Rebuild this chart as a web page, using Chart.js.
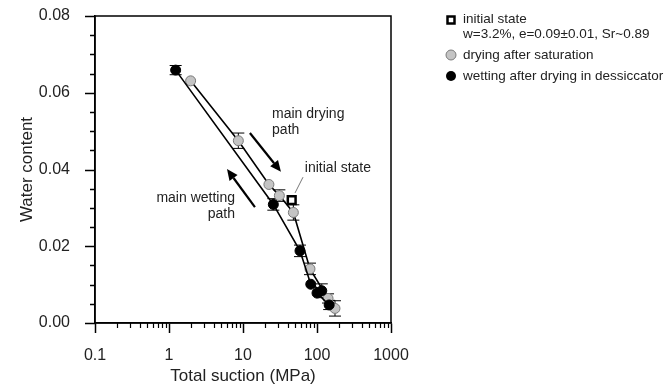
<!DOCTYPE html>
<html>
<head>
<meta charset="utf-8">
<script src="https://cdn.jsdelivr.net/npm/chart.js@4.4.1/dist/chart.umd.min.js"></script>
<style>
  html, body { margin: 0; padding: 0; background: #fff; }
  #wrap { width: 670px; height: 387px; position: relative; }
</style>
</head>
<body>
<div id="wrap"><canvas id="chart"></canvas></div>
<script>
// drying after saturation (grey)
const dryX = [1.96, 8.65, 22.4, 31.0, 47.9, 80.4, 141, 175];
const dryY = [0.0631, 0.0475, 0.0361, 0.0332, 0.0288, 0.0141, 0.0064, 0.0038];
const dryErr = [0, 0.0020, 0, 0.0015, 0.0020, 0.0015, 0.0012, 0.0020];

// wetting after drying in dessiccator (black)
const wetX = [1.23, 25.7, 58.9, 82.4, 116, 100, 146];
const wetY = [0.0659, 0.0309, 0.0188, 0.0101, 0.0084, 0.0078, 0.0047];
const wetErr = [0.0012, 0.0015, 0.0015, 0, 0.0018, 0, 0.0012];

// initial state
const initX = [45.5];
const initY = [0.032];

const xTicks = [0.1, 1, 10, 100, 1000];
const yTicks = [0, 0.02, 0.04, 0.06, 0.08];

const FONT = '"Liberation Sans", Arial, sans-serif';

const toPoints = (xs, ys) => xs.map((x, i) => ({ x: x, y: ys[i] }));

// error bars, ticks, frame, notes and legend
const extras = {
    id: 'extras',
    beforeDatasetsDraw(chart) {
        const ctx = chart.ctx;
        const xs = chart.scales.x, ys = chart.scales.y;
        ctx.save();
        ctx.strokeStyle = '#000';
        ctx.lineWidth = 1;
        [[dryX, dryY, dryErr], [wetX, wetY, wetErr]].forEach(([X, Y, E]) => {
            X.forEach((xv, i) => {
                if (!E[i]) return;
                const px = xs.getPixelForValue(xv);
                const top = ys.getPixelForValue(Y[i] + E[i]);
                const bot = ys.getPixelForValue(Y[i] - E[i]);
                ctx.beginPath();
                ctx.moveTo(px, top); ctx.lineTo(px, bot);
                ctx.moveTo(px - 6, top); ctx.lineTo(px + 6, top);
                ctx.moveTo(px - 6, bot); ctx.lineTo(px + 6, bot);
                ctx.stroke();
            });
        });
        ctx.restore();
    },
    afterDraw(chart) {
        const ctx = chart.ctx;
        const xs = chart.scales.x, ys = chart.scales.y;
        const a = chart.chartArea;
        ctx.save();

        // frame
        ctx.strokeStyle = '#000';
        ctx.lineWidth = 1.5;
        ctx.strokeRect(a.left, a.top, a.right - a.left, a.bottom - a.top);

        // y ticks (major 10px, minor 5px)
        ctx.beginPath();
        for (let i = 0; i <= 16; i++) {
            const v = i * 0.005;
            const py = Math.round(ys.getPixelForValue(v)) + 0.5;
            ctx.moveTo(a.left - (i % 4 === 0 ? 10 : 5), py); ctx.lineTo(a.left, py);
        }
        ctx.stroke();

        // x minor ticks
        ctx.lineWidth = 1.2;
        ctx.beginPath();
        xTicks.slice(0, -1).forEach(d => {
            for (let k = 2; k <= 9; k++) {
                const px = Math.round(xs.getPixelForValue(k * d)) + 0.5;
                ctx.moveTo(px, a.bottom); ctx.lineTo(px, a.bottom + 5);
            }
        });
        ctx.stroke();

        // arrows
        const arrow = (x0, y0, x1, y1) => {
            const p0 = [xs.getPixelForValue(x0), ys.getPixelForValue(y0)];
            const p1 = [xs.getPixelForValue(x1), ys.getPixelForValue(y1)];
            const ang = Math.atan2(p1[1] - p0[1], p1[0] - p0[0]);
            const len = 11, wid = 5;
            const bx = p1[0] - len * Math.cos(ang), by = p1[1] - len * Math.sin(ang);
            ctx.lineWidth = 2.2;
            ctx.beginPath();
            ctx.moveTo(p0[0], p0[1]); ctx.lineTo(bx, by);
            ctx.stroke();
            ctx.beginPath();
            ctx.moveTo(p1[0], p1[1]);
            ctx.lineTo(bx + wid * Math.sin(ang), by - wid * Math.cos(ang));
            ctx.lineTo(bx - wid * Math.sin(ang), by + wid * Math.cos(ang));
            ctx.closePath();
            ctx.fill();
        };
        ctx.fillStyle = '#000';
        arrow(12.4, 0.0495, 32.6, 0.0394);
        arrow(14.5, 0.0302, 6.08, 0.0401);

        // leader line to the initial state
        ctx.lineWidth = 0.8;
        ctx.strokeStyle = '#555';
        ctx.beginPath();
        ctx.moveTo(xs.getPixelForValue(64.7), ys.getPixelForValue(0.0380));
        ctx.lineTo(xs.getPixelForValue(50.5), ys.getPixelForValue(0.0339));
        ctx.stroke();

        // notes
        ctx.fillStyle = '#222';
        ctx.font = '14px ' + FONT;
        ctx.textBaseline = 'middle';
        ctx.textAlign = 'left';
        const note = (txt, xv, yv) => ctx.fillText(txt, xs.getPixelForValue(xv), ys.getPixelForValue(yv));
        note('main drying', 24.7, 0.0545);
        note('path', 24.7, 0.0503);
        note('initial state', 68.5, 0.0404);
        ctx.textAlign = 'right';
        note('main wetting', 7.8, 0.0326);
        note('path', 7.8, 0.0284);

        // legend
        ctx.textAlign = 'left';
        ctx.font = '13.5px ' + FONT;
        const lx = 451, tx = 463;
        ctx.lineWidth = 2.5;
        ctx.strokeStyle = '#000';
        ctx.fillStyle = '#fff';
        ctx.fillRect(lx - 3.5, 20 - 3.5, 7, 7);
        ctx.strokeRect(lx - 3.5, 20 - 3.5, 7, 7);

        ctx.lineWidth = 1;
        ctx.fillStyle = '#c4c4c4';
        ctx.strokeStyle = '#7a7a7a';
        ctx.beginPath(); ctx.arc(lx, 55, 5, 0, Math.PI * 2); ctx.fill(); ctx.stroke();
        ctx.fillStyle = '#000';
        ctx.beginPath(); ctx.arc(lx, 76, 5, 0, Math.PI * 2); ctx.fill();

        ctx.fillStyle = '#222';
        ctx.fillText('initial state', tx, 19);
        ctx.fillText('w=3.2%, e=0.09\u00b10.01, Sr~0.89', tx, 34);
        ctx.fillText('drying after saturation', tx, 55);
        ctx.fillText('wetting after drying in dessiccator', tx, 76);
        ctx.restore();
    }
};

new Chart(document.getElementById('chart'), {
    type: 'scatter',
    data: {
        datasets: [
            {
                label: 'wetting after drying in dessiccator',
                data: toPoints(wetX, wetY),
                showLine: true,
                borderColor: '#000',
                borderWidth: 1.6,
                pointRadius: 5,
                pointBackgroundColor: '#000',
                pointBorderColor: '#000',
                pointBorderWidth: 1
            },
            {
                label: 'drying after saturation',
                data: toPoints(dryX, dryY),
                showLine: true,
                borderColor: '#000',
                borderWidth: 1.6,
                pointRadius: 5,
                pointBackgroundColor: '#c4c4c4',
                pointBorderColor: '#7a7a7a',
                pointBorderWidth: 1
            },
            {
                label: 'initial state',
                data: toPoints(initX, initY),
                pointStyle: 'rect',
                pointRadius: 5.5,
                pointBackgroundColor: '#fff',
                pointBorderColor: '#000',
                pointBorderWidth: 2.5
            }
        ]
    },
    options: {
        responsive: true,
        maintainAspectRatio: false,
        animation: false,
        layout: { padding: { top: 16, right: 279, left: 0, bottom: 0 } },
        plugins: { legend: { display: false }, tooltip: { enabled: false } },
        scales: {
            x: {
                type: 'logarithmic',
                min: 0.1,
                max: 1000,
                afterBuildTicks: axis => { axis.ticks = xTicks.map(v => ({ value: v })); },
                afterFit: axis => { axis.height = 64; },
                ticks: {
                    color: '#222',
                    font: { family: FONT, size: 16 },
                    padding: 13,
                    maxRotation: 0,
                    autoSkip: false,
                    callback: v => String(v)
                },
                grid: { display: true, drawOnChartArea: false, tickLength: 10, tickColor: '#000', tickWidth: 1.5 },
                border: { display: true, color: '#000', width: 1.5 },
                title: { display: true, text: 'Total suction (MPa)', color: '#222', font: { family: FONT, size: 17 }, padding: { top: 0, bottom: 0 } }
            },
            y: {
                min: 0,
                max: 0.08,
                afterBuildTicks: axis => { axis.ticks = yTicks.map(v => ({ value: v })); },
                afterFit: axis => { axis.width = 95; },
                ticks: {
                    color: '#222',
                    font: { family: FONT, size: 16 },
                    padding: 0,
                    callback: v => v.toFixed(2)
                },
                grid: { display: true, drawOnChartArea: false, tickLength: 25, tickColor: 'rgba(0,0,0,0)' },
                border: { display: true, color: '#000', width: 1.5 },
                title: { display: true, text: 'Water content', color: '#222', font: { family: FONT, size: 17 }, padding: { top: 17, bottom: 0 } }
            }
        }
    },
    plugins: [extras]
});
</script>
</body>
</html>
